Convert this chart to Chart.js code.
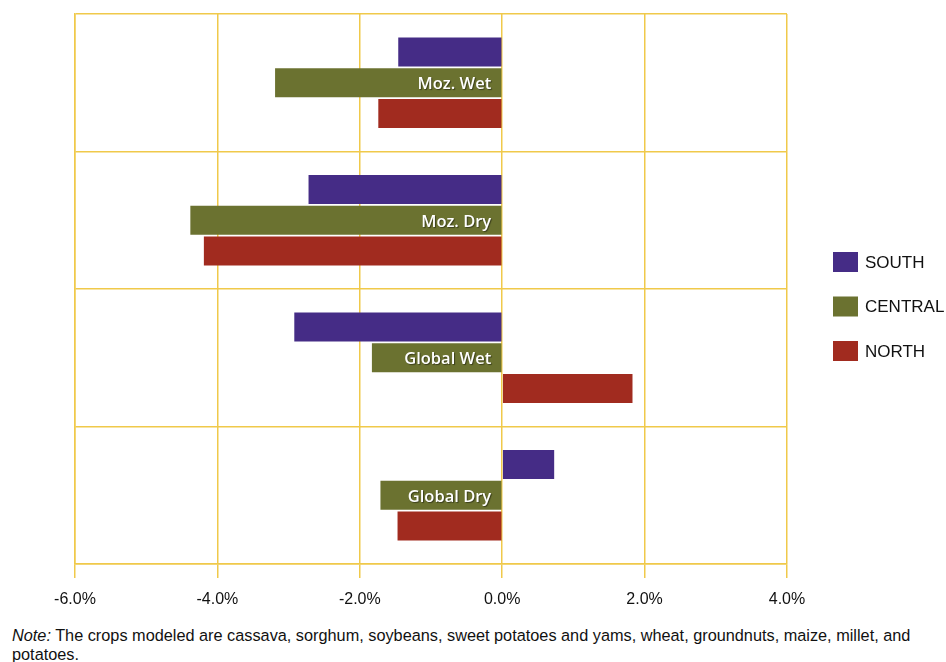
<!DOCTYPE html>
<html>
<head>
<meta charset="utf-8">
<script src="https://cdn.jsdelivr.net/npm/chart.js@4"></script>
<style>
  html, body { margin: 0; padding: 0; background: #fff; }
  #wrap { position: relative; width: 946px; height: 620px; }
  #note {
    margin: 0; padding: 6px 0 0 12px; width: 930px;
    font-family: "Liberation Sans", Arial, sans-serif;
    font-size: 16.3px; line-height: 19px; color: #111;
  }
</style>
</head>
<body>
<div id="wrap"><canvas id="chart" width="946" height="620"></canvas></div>
<p id="note"><i>Note:</i> The crops modeled are cassava, sorghum, soybeans, sweet potatoes and yams, wheat, groundnuts, maize, millet, and potatoes.</p>
<script>
const scenarios = ["Moz. Wet", "Moz. Dry", "Global Wet", "Global Dry"];
const regionNames = ["SOUTH", "CENTRAL", "NORTH"];
const southValues = [-1.46, -2.72, -2.92, 0.73];
const centralValues = [-3.19, -4.38, -1.83, -1.71];
const northValues = [-1.74, -4.19, 1.83, -1.47];
const xTicks = [-6, -4, -2, 0, 2, 4];

const regionColors = ["#452c86", "#6b7230", "#a12b1f"];
const gridColor = "#f0c94a";
const fontFamily = '"Liberation Sans", Arial, sans-serif';

// scenario names sit inside the CENTRAL bar, right aligned against zero
const scenarioLabels = {
  id: "scenarioLabels",
  afterDatasetsDraw(chart) {
    const ctx = chart.ctx;
    const meta = chart.getDatasetMeta(1);
    const zero = chart.scales.x.getPixelForValue(0);
    ctx.save();
    ctx.font = '600 16.5px "Open Sans", sans-serif';
    ctx.textAlign = "right";
    ctx.textBaseline = "middle";
    ctx.shadowColor = "rgba(0,0,0,0.45)";
    ctx.shadowOffsetX = 1;
    ctx.shadowOffsetY = 1;
    ctx.shadowBlur = 1;
    ctx.fillStyle = "#ffffff";
    meta.data.forEach((bar, i) => {
      ctx.fillText(scenarios[i], zero - 11, bar.y + 2);
    });
    ctx.restore();
  },
};

const sideLegend = {
  id: "sideLegend",
  afterDraw(chart) {
    const ctx = chart.ctx;
    ctx.save();
    ctx.font = "17px " + fontFamily;
    ctx.textBaseline = "middle";
    ctx.textAlign = "left";
    chart.data.datasets.forEach((ds, i) => {
      const y = 262 + i * 44.5;
      ctx.fillStyle = ds.backgroundColor;
      ctx.fillRect(833, y - 10, 25, 20);
      ctx.fillStyle = "#111";
      ctx.fillText(ds.label, 865, y + 1);
    });
    ctx.restore();
  },
};

const datasets = [southValues, centralValues, northValues].map((values, i) => ({
  label: regionNames[i],
  data: values,
  backgroundColor: regionColors[i],
  borderWidth: 0,
  barPercentage: 0.94,
  categoryPercentage: 0.67,
}));

new Chart(document.getElementById("chart"), {
  type: "bar",
  data: { labels: scenarios, datasets },
  plugins: [scenarioLabels, sideLegend],
  options: {
    indexAxis: "y",
    responsive: false,
    animation: false,
    layout: { padding: { top: 14, right: 159, left: 0, bottom: 0 } },
    plugins: {
      legend: { display: false },
      tooltip: { enabled: false },
    },
    scales: {
      x: {
        type: "linear",
        min: -6,
        max: 4,
        afterBuildTicks(scale) {
          scale.ticks = xTicks.map((v) => ({ value: v }));
        },
        afterFit(scale) {
          scale.height = 56;
        },
        ticks: {
          padding: 12,
          color: "#111",
          font: { family: fontFamily, size: 16 },
          callback: (v) => v.toFixed(1) + "%",
        },
        grid: { color: gridColor, lineWidth: 1.5, tickLength: 14 },
        border: { color: gridColor, width: 1.5 },
      },
      y: {
        afterFit(scale) {
          scale.width = 75;
        },
        ticks: { display: false },
        grid: { color: gridColor, lineWidth: 1.5, drawTicks: false, offset: true },
        border: { color: gridColor, width: 1.5 },
      },
    },
  },
});
</script>
</body>
</html>
